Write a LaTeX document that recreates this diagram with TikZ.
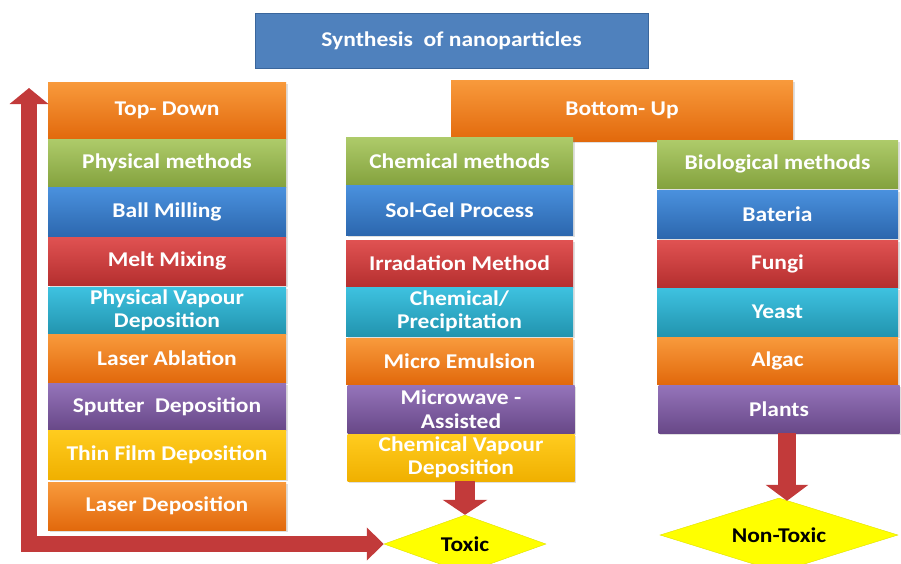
\documentclass[tikz,border=0pt]{standalone}
\usepackage{fontspec}
\setmainfont{Carlito}
\newfontfamily\labelfont{Carlito}[FakeStretch=1.12]
\usetikzlibrary{arrows.meta,shapes.geometric,shadows}

\definecolor{titleblue}{HTML}{4F81BD}
\definecolor{titleedge}{HTML}{3A669C}
\definecolor{orangeL}{HTML}{F89A3C}
\definecolor{orangeD}{HTML}{E2690C}
\definecolor{greenL}{HTML}{AECB6A}
\definecolor{greenD}{HTML}{84A23E}
\definecolor{blueL}{HTML}{4A91DE}
\definecolor{blueD}{HTML}{2C67AE}
\definecolor{redL}{HTML}{E05252}
\definecolor{redD}{HTML}{B52F2F}
\definecolor{cyanL}{HTML}{3EC2E0}
\definecolor{cyanD}{HTML}{2294AF}
\definecolor{purpleL}{HTML}{9574BA}
\definecolor{purpleD}{HTML}{684888}
\definecolor{yellowL}{HTML}{FFCC1F}
\definecolor{yellowD}{HTML}{F0B000}
\definecolor{arrowred}{HTML}{C23A3A}
\definecolor{decisionyellow}{HTML}{FFFF00}
\definecolor{decisionedge}{HTML}{E0E000}

\begin{document}
\begin{tikzpicture}[x=1pt, y=-1pt,
  box/.style={rectangle, inner sep=0pt, align=center, text=white,
    font=\labelfont\bfseries\fontsize{21}{23.5}\selectfont, minimum height=48pt},
  layer/.style={box, top color=#1L, bottom color=#1D,
    drop shadow={opacity=0.25, shadow xshift=1.5pt, shadow yshift=-1.5pt}},
  decision/.style={diamond, aspect=3, inner sep=0pt, fill=decisionyellow,
    draw=decisionedge, text=black,
    font=\labelfont\bfseries\fontsize{21}{24}\selectfont},
  bigarrow/.style={line width=#1, draw=arrowred, line join=miter}]
\useasboundingbox (0,0) rectangle (901,563);

% --- Heading ---
\node[box, fill=titleblue, draw=titleedge, minimum width=393pt,
  minimum height=55pt] (title) at (451.5,40.5) {Synthesis\ \ of nanoparticles};

% --- Top-down column: physical methods ---
\begin{scope}[every node/.append style={minimum width=238pt}]
  \node[layer=orange, minimum height=57pt] (topdown) at (167,110.5) {Top- Down};
  \node[layer=green]  (physical) at (167,163)   {Physical methods};
  \node[layer=blue, minimum height=50pt] (ballmill) at (167,212) {Ball Milling};
  \node[layer=red]    (meltmix)  at (167,261)   {Melt Mixing};
  \node[layer=cyan, minimum height=47pt] (pvd) at (167,310.5)
    {Physical Vapour\\Deposition};
  \node[layer=orange] (ablation) at (167,358)   {Laser Ablation};
  \node[layer=purple, minimum height=47pt] (sputter) at (167,406.5)
    {Sputter\ \ Deposition};
  \node[layer=yellow, minimum height=49pt] (thinfilm) at (167,454.5)
    {Thin Film Deposition};
  \node[layer=orange] (laserdep) at (167,506)   {Laser Deposition};
\end{scope}

% --- Bottom-up header ---
\node[layer=orange, minimum width=342pt, minimum height=61pt] (bottomup)
  at (622,110.5) {Bottom- Up};

% --- Chemical methods column ---
\begin{scope}[every node/.append style={minimum width=227pt}]
  \node[layer=green]  (chemical)  at (459.5,161)   {Chemical methods};
  \node[layer=blue, minimum height=50pt] (solgel) at (459.5,210) {Sol-Gel Process};
  \node[layer=red, minimum height=47pt] (irradiation) at (459.5,263.5)
    {Irradation Method};
  \node[layer=cyan, minimum height=49pt] (precipitation) at (459.5,311.5)
    {Chemical/\\Precipitation};
  \node[layer=orange, minimum height=46pt] (emulsion) at (459.5,361)
    {Micro Emulsion};
  \node[layer=purple] (microwave) at (461,409)     {Microwave -\\Assisted};
  \node[layer=yellow, minimum height=47pt] (cvd) at (461,457.5)
    {Chemical Vapour\\Deposition};
\end{scope}

% --- Biological methods column ---
\begin{scope}[every node/.append style={minimum width=241pt}]
  \node[layer=green]  (biological) at (777.5,164)   {Biological methods};
  \node[layer=blue]   (bacteria)   at (777.5,214)   {Bateria};
  \node[layer=red, minimum height=47pt] (fungi) at (777.5,263.5) {Fungi};
  \node[layer=cyan]   (yeast)      at (777.5,312)   {Yeast};
  \node[layer=orange, minimum height=47pt] (algae) at (777.5,360.5) {Algac};
  \node[layer=purple] (plants)     at (779,409)     {Plants};
\end{scope}

% --- Outcomes ---
\node[decision, minimum width=162pt, minimum height=58pt] (toxic)
  at (465,544) {Toxic};
\node[decision, minimum width=238pt, minimum height=74pt] (nontoxic)
  at (779,535) {Non-Toxic};

% --- Arrows ---
\coordinate (uptip) at (29,88);
\draw[bigarrow=16pt,
  {Triangle[width=38pt,length=16pt]}-{Triangle[width=32pt,length=17pt]}]
  (uptip) |- (toxic.west);
\draw[bigarrow=20pt, -{Triangle[width=44pt,length=15pt]}]
  (cvd.south -| toxic.north) -- (toxic.north);
\draw[bigarrow=18pt, -{Triangle[width=42pt,length=16pt]}]
  ([xshift=8pt]plants.south) -- ([xshift=8pt, yshift=-3pt]nontoxic.north);

\end{tikzpicture}
\end{document}
